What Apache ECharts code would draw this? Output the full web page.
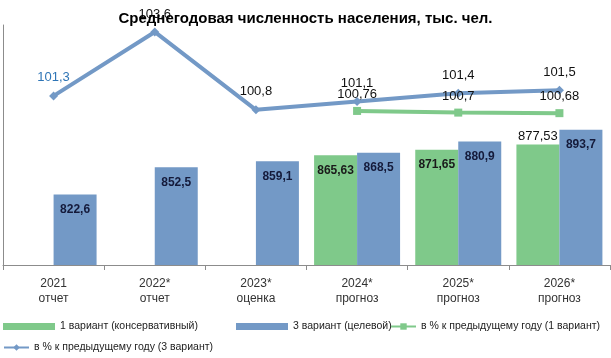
<!DOCTYPE html>
<html><head><meta charset="utf-8">
<script src="https://cdn.jsdelivr.net/npm/echarts@6/dist/echarts.min.js"></script>
<style>html,body{margin:0;padding:0;background:#fff}#c{width:611px;height:358px}</style>
</head><body><div id="c"></div>
<script>
const categories = ['2021\nотчет','2022*\nотчет','2023*\nоценка','2024*\nпрогноз','2025*\nпрогноз','2026*\nпрогноз'];
const variant1 = [null,null,null,865.63,871.65,877.53];
const variant3 = [822.6,852.5,859.1,868.5,880.9,893.7];
const pct1 = [null,null,null,100.76,100.7,100.68];
const pct3 = [101.3,103.6,100.8,101.1,101.4,101.5];
const names = ['1 вариант (консервативный)','3 вариант (целевой)','в % к предыдущему году (1 вариант)','в % к предыдущему году (3 вариант)'];

const fmt = v => String(v).replace('.', ',');
const BLUE = '#7399c6', GREEN = '#7fc98a';
const FONT = 'Liberation Sans';
const chart = echarts.init(document.getElementById('c'));
const lt = {fontSize:10.5,color:'#222'};
chart.setOption({
  animation:false,
  textStyle:{fontFamily:FONT},
  title:{text:'Среднегодовая численность населения, тыс. чел.', left:'center', top:6,
    textStyle:{fontSize:15, fontWeight:'bold', color:'#000', fontFamily:FONT}},
  grid:{left:3, right:1, top:25, bottom:93},
  legend:[
    {data:[names[0]], left:3, top:321, padding:0, itemWidth:52, itemHeight:7, textStyle:lt, icon:'rect'},
    {data:[names[1]], left:236, top:321, padding:0, itemWidth:52, itemHeight:7, textStyle:lt, icon:'rect'},
    {data:[names[2]], left:390, top:321, padding:0, itemWidth:25, itemHeight:8, textStyle:lt},
    {data:[names[3]], left:3, top:342, padding:0, itemWidth:25, itemHeight:8, textStyle:lt}
  ],
  xAxis:{type:'category', data:categories,
    axisLine:{lineStyle:{color:'#8c8c8c'}},
    axisTick:{show:true, length:5, lineStyle:{color:'#8c8c8c'}},
    axisLabel:{fontSize:12, color:'#333', lineHeight:15, margin:11}},
  yAxis:[
    {type:'value', min:745, max:1009, axisLine:{show:true, lineStyle:{color:'#8c8c8c'}},
      axisLabel:{show:false}, splitLine:{show:false}, axisTick:{show:false}},
    {type:'value', min:95.22, max:103.85, show:false, splitLine:{show:false}}
  ],
  series:[
    {name:names[0], type:'bar', data:variant1.map((v,i)=> v==null?null:(i===5?{value:v,label:{position:'top',distance:2,fontWeight:'normal',color:'#111',fontSize:13}}:v)),
      itemStyle:{color:GREEN}, barGap:'0%', barCategoryGap:'15%',
      label:{show:true, position:'insideTop', distance:9, fontSize:12, fontWeight:'bold', color:'#1a1a1a', formatter:p=>fmt(p.value)}},
    {name:names[1], type:'bar', data:variant3, itemStyle:{color:BLUE},
      label:{show:true, position:'insideTop', distance:9, fontSize:12, fontWeight:'bold', color:'#141a3a', formatter:p=>fmt(p.value)}},
    {name:names[2], type:'line', yAxisIndex:1, data:pct1, symbol:'rect', symbolSize:8,
      lineStyle:{color:GREEN, width:4}, itemStyle:{color:GREEN},
      label:{show:true, position:'top', distance:6, fontSize:13, color:'#111', formatter:p=>fmt(p.value)}},
    {name:names[3], type:'line', yAxisIndex:1, data:pct3.map((v,i)=> i===0?{value:v,label:{color:'#2e75b6'}}:v), symbol:'diamond', symbolSize:9,
      lineStyle:{color:BLUE, width:4}, itemStyle:{color:BLUE},
      label:{show:true, position:'top', distance:7, fontSize:13, color:'#111', formatter:p=>fmt(p.value)}}
  ]
});
</script></body></html>
